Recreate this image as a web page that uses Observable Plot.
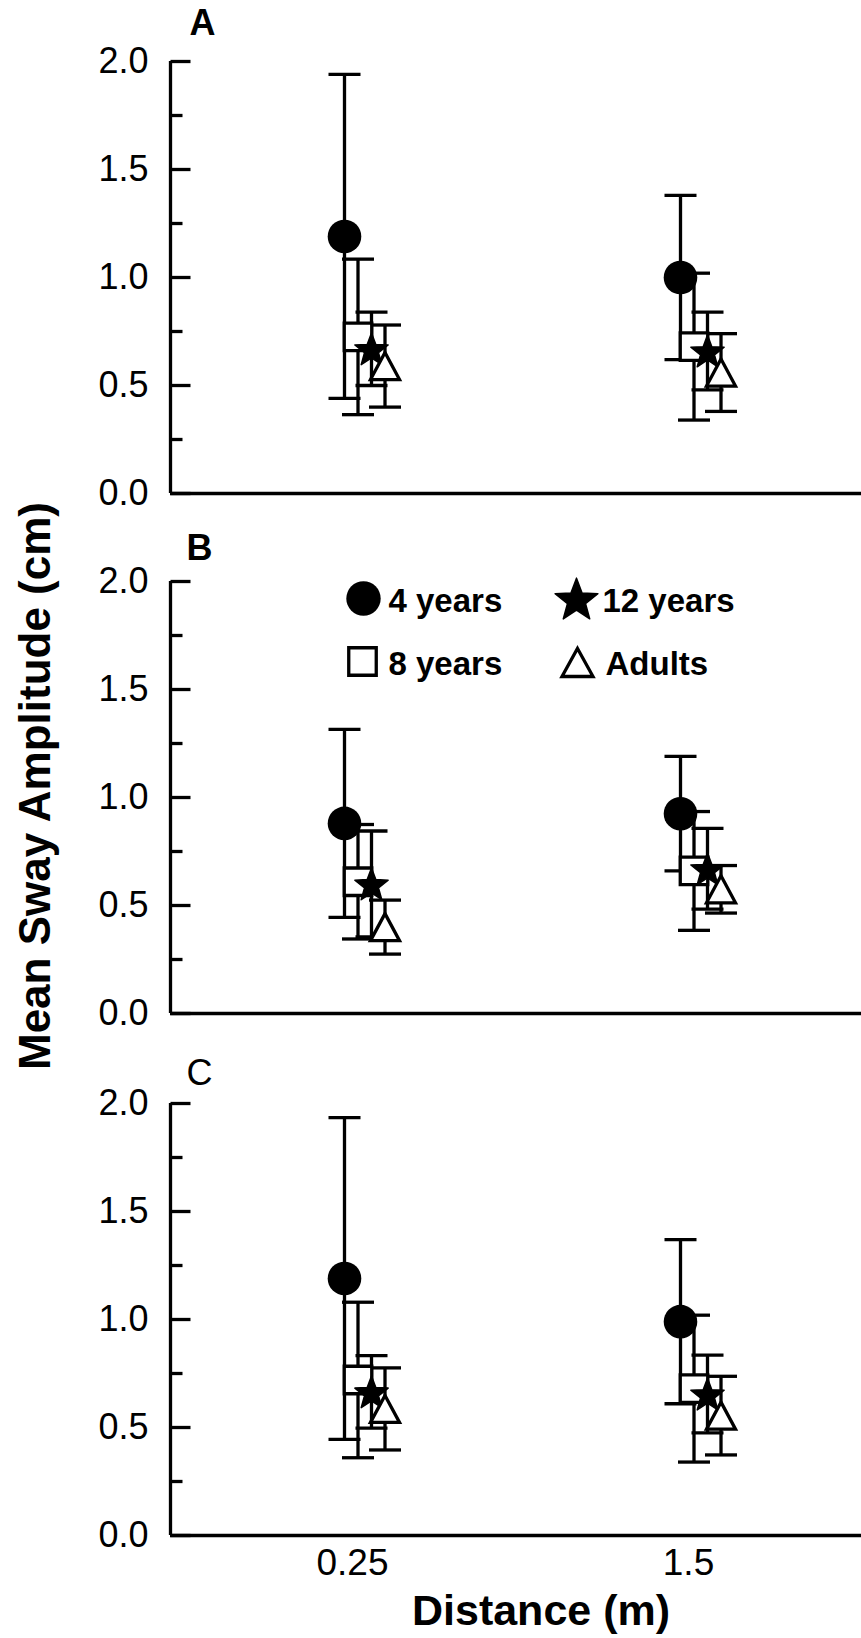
<!DOCTYPE html>
<html>
<head>
<meta charset="utf-8">
<script src="https://cdn.jsdelivr.net/npm/d3@7"></script>
<script src="https://cdn.jsdelivr.net/npm/@observablehq/plot@0.6"></script>
<style>
  body { margin: 0; background: #fff; }
  #fig { position: relative; width: 861px; height: 1638px; font-family: "Liberation Sans", Arial, sans-serif; color: #000; }
  #fig svg { display: block; overflow: visible; }
  #ytitle { position: absolute; left: 35px; top: 786px; transform: translate(-50%, -50%) rotate(-90deg); white-space: nowrap; font-weight: bold; font-size: 44px; line-height: 1; }
</style>
</head>
<body>
<div id="fig"><div id="ytitle">Mean Sway Amplitude (cm)</div></div>
<script>
// ---- data ----
const distances = ["0.25", "1.5"];
const groups = ["4 years", "8 years", "12 years", "Adults"];
const panelNames = ["A", "B", "C"];
const yTicksMajor = [0, 0.5, 1.0, 1.5, 2.0];
const yTicksMinor = [0.25, 0.75, 1.25, 1.75];

// Panel A: mean and SD per group, [0.25 m, 1.5 m]
const A_4y_mean = [1.19, 1.00],  A_4y_sd = [0.75, 0.38];
const A_8y_mean = [0.725, 0.68], A_8y_sd = [0.36, 0.34];
const A_12y_mean = [0.67, 0.66], A_12y_sd = [0.17, 0.18];
const A_ad_mean = [0.59, 0.56],  A_ad_sd = [0.19, 0.18];
// Panel B
const B_4y_mean = [0.88, 0.925], B_4y_sd = [0.435, 0.265];
const B_8y_mean = [0.61, 0.66],  B_8y_sd = [0.265, 0.275];
const B_12y_mean = [0.60, 0.67], B_12y_sd = [0.245, 0.187];
const B_ad_mean = [0.40, 0.575], B_ad_sd = [0.125, 0.11];
// Panel C
const C_4y_mean = [1.19, 0.99],  C_4y_sd = [0.745, 0.38];
const C_8y_mean = [0.72, 0.68],  C_8y_sd = [0.36, 0.34];
const C_12y_mean = [0.665, 0.655], C_12y_sd = [0.168, 0.18];
const C_ad_mean = [0.586, 0.555], C_ad_sd = [0.19, 0.182];

const panelData = {
  A: [[A_4y_mean, A_4y_sd], [A_8y_mean, A_8y_sd], [A_12y_mean, A_12y_sd], [A_ad_mean, A_ad_sd]],
  B: [[B_4y_mean, B_4y_sd], [B_8y_mean, B_8y_sd], [B_12y_mean, B_12y_sd], [B_ad_mean, B_ad_sd]],
  C: [[C_4y_mean, C_4y_sd], [C_8y_mean, C_8y_sd], [C_12y_mean, C_12y_sd], [C_ad_mean, C_ad_sd]]
};

// ---- styling ----
const W = 861, ML = 170, MR = 0, PLOT_H = 432;
const xDomain = [-(352 - ML) / 336, 1 + (W - 688) / 336];
const dodge = [-8, 5.5, 19, 32.5]; // px offset of each group within a distance
const LW = 3.3;
const font = "Liberation Sans, Arial, sans-serif";

const capSym = {draw(ctx) { ctx.moveTo(-16, 0); ctx.lineTo(16, 0); }};
const tickSym = L => ({draw(ctx) { ctx.moveTo(0, 0); ctx.lineTo(L, 0); }});
const circSym = r => ({draw(ctx) { ctx.moveTo(r, 0); ctx.arc(0, 0, r, 0, 2 * Math.PI); ctx.closePath(); }});
const sqSym = s => ({draw(ctx) { ctx.rect(-s / 2, -s / 2, s, s); }});
const triSym = (w, h) => ({draw(ctx) { ctx.moveTo(0, -h / 2); ctx.lineTo(w / 2, h / 2); ctx.lineTo(-w / 2, h / 2); ctx.closePath(); }});
const starSym = R => ({draw(ctx) {
  const r = R * 0.42;
  for (let i = 0; i < 10; i++) {
    const rad = i % 2 ? r : R;
    const a = -Math.PI / 2 + i * Math.PI / 5;
    const px = rad * Math.cos(a), py = rad * Math.sin(a) + R * 0.095;
    i ? ctx.lineTo(px, py) : ctx.moveTo(px, py);
  }
  ctx.closePath();
}});

const symStyle = [
  {symbol: circSym(16.8), fill: "black", stroke: "none"},
  {symbol: sqSym(27.5), fill: "white", stroke: "black", strokeWidth: LW},
  {symbol: starSym(17.5), fill: "black", stroke: "black", strokeWidth: 1.5, strokeLinejoin: "round"},
  {symbol: triSym(29, 27), fill: "white", stroke: "black", strokeWidth: LW}
];
const legendSymStyle = [
  {symbol: circSym(17.2), fill: "black", stroke: "none"},
  {symbol: sqSym(27.5), fill: "white", stroke: "black", strokeWidth: LW},
  {symbol: starSym(22.5), fill: "black", stroke: "black", strokeWidth: 1.5, strokeLinejoin: "round"},
  {symbol: triSym(31, 28), fill: "white", stroke: "black", strokeWidth: LW}
];
// legend layout (px from the top-left corner of panel B's frame)
const legendPos = [
  {dx: 193, dy: 17, tdx: 218, tdy: 20},
  {dx: 192, dy: 80, tdx: 218, tdy: 83},
  {dx: 406, dy: 17, tdx: 432, tdy: 20},
  {dx: 407, dy: 81, tdx: 435, tdy: 83}
];

const layout = {
  A: {height: 520, marginTop: 61, label: {dx: 32, dy: -38, weight: "bold"}},
  B: {height: 520, marginTop: 61, label: {dx: 29, dy: -33, weight: "bold"}},
  C: {height: 598, marginTop: 63, label: {dx: 29, dy: -30, weight: "normal"}}
};

function rowsFor(p) {
  const rows = [];
  panelData[p].forEach(([mean, sd], gi) => {
    distances.forEach((d, di) => rows.push({panel: p, group: groups[gi], gi, di, mean: mean[di], sd: sd[di]}));
  });
  return rows;
}

const fig = document.getElementById("fig");

for (const p of panelNames) {
  const L = layout[p];
  const rows = rowsFor(p);
  const marks = [];
  // axes lines
  marks.push(Plot.ruleY([0], {stroke: "black", strokeWidth: LW}));
  marks.push(Plot.ruleX([xDomain[0]], {y1: 0, y2: 2, stroke: "black", strokeWidth: LW}));
  // inward ticks
  marks.push(Plot.dot(yTicksMajor, {y: d => d, frameAnchor: "left", symbol: tickSym(20), fill: "none", stroke: "black", strokeWidth: LW}));
  marks.push(Plot.dot(yTicksMinor, {y: d => d, frameAnchor: "left", symbol: tickSym(12), fill: "none", stroke: "black", strokeWidth: LW}));
  marks.push(Plot.axisY(yTicksMajor, {tickSize: 0, tickPadding: 22, tickFormat: d3.format(".1f"), fontSize: 36, label: null}));
  // error bars
  groups.forEach((g, gi) => {
    const data = rows.filter(r => r.gi === gi);
    marks.push(Plot.ruleX(data, {x: "di", y1: d => d.mean - d.sd, y2: d => d.mean + d.sd, dx: dodge[gi], stroke: "black", strokeWidth: LW}));
    marks.push(Plot.dot(data, {x: "di", y: d => d.mean + d.sd, dx: dodge[gi], symbol: capSym, fill: "none", stroke: "black", strokeWidth: LW}));
    marks.push(Plot.dot(data, {x: "di", y: d => d.mean - d.sd, dx: dodge[gi], symbol: capSym, fill: "none", stroke: "black", strokeWidth: LW}));
  });
  // symbols
  groups.forEach((g, gi) => {
    const data = rows.filter(r => r.gi === gi);
    marks.push(Plot.dot(data, {x: "di", y: "mean", dx: dodge[gi], ...symStyle[gi]}));
  });
  // panel letter
  marks.push(Plot.text([p], {text: d => d, frameAnchor: "top-left", dx: L.label.dx, dy: L.label.dy, fontSize: 36, fontWeight: L.label.weight, textAnchor: "middle", lineAnchor: "middle"}));
  // legend in panel B
  if (p === "B") {
    groups.forEach((g, gi) => {
      const pos = legendPos[gi];
      marks.push(Plot.dot([g], {frameAnchor: "top-left", dx: pos.dx, dy: pos.dy, ...legendSymStyle[gi]}));
      marks.push(Plot.text([g], {text: d => d, frameAnchor: "top-left", dx: pos.tdx, dy: pos.tdy, fontSize: 33, fontWeight: "bold", textAnchor: "start", lineAnchor: "middle"}));
    });
  }
  if (p === "C") {
    marks.push(Plot.axisX([0, 1], {tickSize: 0, tickPadding: 13, tickFormat: i => distances[i], fontSize: 37, label: null}));
    marks.push(Plot.text(["Distance (m)"], {text: d => d, frameAnchor: "bottom", dx: 25, dy: 76, fontSize: 43, fontWeight: "bold", textAnchor: "middle", lineAnchor: "middle"}));
  } else {
    marks.push(Plot.axisX({ticks: [], tickSize: 0, label: null}));
  }

  const chart = Plot.plot({
    width: W,
    height: L.height,
    marginLeft: ML,
    marginRight: MR,
    marginTop: L.marginTop,
    marginBottom: L.height - L.marginTop - PLOT_H,
    style: {fontFamily: font, fontSize: "36px", color: "black", background: "white", overflow: "visible"},
    x: {type: "linear", domain: xDomain, axis: null},
    y: {domain: [0, 2], axis: null},
    marks
  });
  fig.appendChild(chart);
}
</script>
</body>
</html>
